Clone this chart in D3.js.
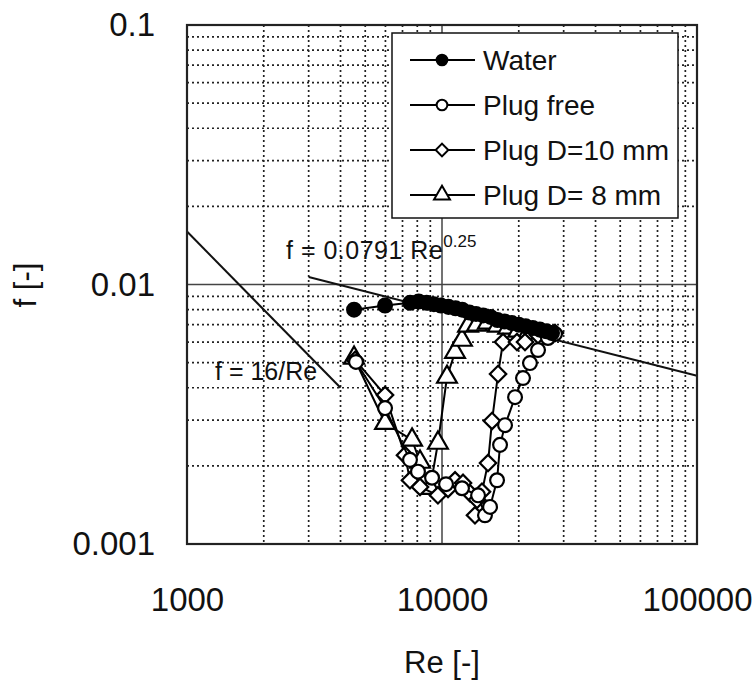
<!DOCTYPE html>
<html>
<head>
<meta charset="utf-8">
<script src="https://cdn.jsdelivr.net/npm/d3@7"></script>
<style>
  body { margin: 0; background: #fff; }
  svg { display: block; font-family: "Liberation Sans", Arial, sans-serif; }
</style>
</head>
<body>
<svg id="chart"></svg>
<script>
// Re [-] and f [-]
const waterRe = [4520, 5980, 7500, 8100, 8700, 9300, 9900, 10600, 11300, 12000, 12800, 13600, 14500, 15500, 16500, 17600, 18800, 20000, 21300, 22700, 24200, 25700, 27000];
const waterF = [0.0080, 0.0083, 0.0085, 0.0086, 0.0085, 0.0084, 0.0083, 0.0082, 0.0081, 0.0080, 0.0078, 0.0077, 0.0076, 0.0075, 0.0073, 0.0072, 0.0071, 0.0070, 0.0069, 0.0068, 0.0067, 0.0066, 0.0065];

const freeRe = [4600, 5980, 7490, 8050, 9140, 10370, 11980, 13850, 14740, 15430, 16440, 16890, 17670, 19340, 20780, 22130, 23800, 26040, 27740];
const freeF = [0.00503, 0.00334, 0.00211, 0.00190, 0.00180, 0.00170, 0.00164, 0.00154, 0.00129, 0.00139, 0.00176, 0.00241, 0.00287, 0.00368, 0.00436, 0.00498, 0.00559, 0.00622, 0.00645];

const d10Re = [4560, 5980, 7160, 7490, 8200, 9640, 10560, 11250, 12090, 12880, 13720, 13470, 14350, 15150, 15710, 16590, 17350, 19680, 21160, 23800, 25820, 27740];
const d10F = [0.00512, 0.00375, 0.00220, 0.00176, 0.00166, 0.00154, 0.00163, 0.00176, 0.00172, 0.00157, 0.00148, 0.00129, 0.00159, 0.00205, 0.00298, 0.00452, 0.00600, 0.00600, 0.00600, 0.00639, 0.00639, 0.00650];

const d8Re = [4520, 5980, 7630, 8200, 8980, 9640, 10460, 11250, 11970, 12650, 13720, 15120, 16560, 18170, 19900, 21760];
const d8F = [0.00521, 0.00292, 0.00252, 0.00207, 0.00164, 0.00245, 0.00440, 0.00549, 0.00611, 0.00692, 0.00699, 0.00711, 0.00692, 0.00680, 0.00662, 0.00650];

const laminarRe = [1000, 4000];      // f = 16/Re
const blasiusRe = [3000, 100000];    // f = 0.0791 Re^-0.25

const xTickLabels = [1000, 10000, 100000];
const yTickLabels = [0.001, 0.01, 0.1];
const seriesNames = ["Water", "Plug free", "Plug D=10 mm", "Plug D= 8 mm"];

const W = 755, H = 685;
const mL = 187, mR = 697, mT = 25, mB = 544;

const svg = d3.select("#chart").attr("width", W).attr("height", H);

const x = d3.scaleLog().domain([1000, 100000]).range([mL, mR]);
const y = d3.scaleLog().domain([0.001, 0.1]).range([mB, mT]);

const isMajor = v => Math.abs(Math.log10(v) - Math.round(Math.log10(v))) < 1e-9;

// grid
const grid = svg.append("g");
grid.selectAll(".vg")
  .data(x.ticks().filter(v => v > 1000 && v < 100000))
  .enter().append("line")
    .attr("x1", d => x(d)).attr("x2", d => x(d))
    .attr("y1", mT).attr("y2", mB)
    .attr("stroke", d => isMajor(d) ? "#444" : "#222")
    .attr("stroke-width", d => isMajor(d) ? 1.5 : 1.7)
    .attr("stroke-dasharray", d => isMajor(d) ? null : "2,3");
grid.selectAll(".hg")
  .data(y.ticks().filter(v => v > 0.001 && v < 0.1))
  .enter().append("line")
    .attr("y1", d => y(d)).attr("y2", d => y(d))
    .attr("x1", mL).attr("x2", mR)
    .attr("stroke", d => isMajor(d) ? "#444" : "#222")
    .attr("stroke-width", d => isMajor(d) ? 1.5 : 1.7)
    .attr("stroke-dasharray", d => isMajor(d) ? null : "2,3");

// theory lines
const lineTheory = d3.line().x(d => x(d[0])).y(d => y(d[1]));
svg.append("path")
  .datum(laminarRe.map(r => [r, 16 / r]))
  .attr("d", lineTheory)
  .attr("fill", "none").attr("stroke", "#111").attr("stroke-width", 2);
svg.append("path")
  .datum(blasiusRe.map(r => [r, 0.0791 * Math.pow(r, -0.25)]))
  .attr("d", lineTheory)
  .attr("fill", "none").attr("stroke", "#111").attr("stroke-width", 2);

svg.append("text").attr("x", 215).attr("y", 380)
  .attr("font-size", 25).attr("fill", "#111").text("f = 16/Re");
const bl = svg.append("text").attr("x", 286).attr("y", 259).attr("font-size", 25)
  .attr("letter-spacing", 0.5).attr("fill", "#111");
bl.append("tspan").text("f = 0.0791 Re");
bl.append("tspan").attr("dy", -12).attr("font-size", 17).attr("letter-spacing", 0).text("0.25");

// markers
const sym = {
  circle: d3.symbol().type(d3.symbolCircle).size(150),
  diamond: d3.symbol().type(d3.symbolSquare).size(135),
  triangle: d3.symbol().type(d3.symbolTriangle).size(170)
};

const series = [
  { name: seriesNames[3], re: d8Re, f: d8F, shape: "triangle", fill: "#fff" },
  { name: seriesNames[2], re: d10Re, f: d10F, shape: "diamond", fill: "#fff" },
  { name: seriesNames[1], re: freeRe, f: freeF, shape: "circle", fill: "#fff" },
  { name: seriesNames[0], re: waterRe, f: waterF, shape: "circle", fill: "#000" }
];

const line = d3.line().x(d => x(d[0])).y(d => y(d[1]));

series.forEach(s => {
  const pts = s.re.map((r, i) => [r, s.f[i]]);
  const g = svg.append("g");
  g.append("path").datum(pts).attr("d", line)
    .attr("fill", "none").attr("stroke", "#000").attr("stroke-width", 2);
  g.selectAll("path.m").data(pts).enter().append("path")
    .attr("class", "m")
    .attr("d", sym[s.shape])
    .attr("transform", d => `translate(${x(d[0])},${y(d[1])})` + (s.shape === "diamond" ? " rotate(45)" : ""))
    .attr("fill", s.fill).attr("stroke", "#000").attr("stroke-width", 2.2);
});

// frame
svg.append("rect").attr("x", mL).attr("y", mT)
  .attr("width", mR - mL).attr("height", mB - mT)
  .attr("fill", "none").attr("stroke", "#222").attr("stroke-width", 2.2);

// axes labels
const xAxis = d3.axisBottom(x).tickValues(xTickLabels).tickSize(0).tickPadding(44)
  .tickFormat(d3.format("d"));
svg.append("g").attr("transform", `translate(0,${mB})`).call(xAxis)
  .call(g => g.select(".domain").remove())
  .selectAll("text").attr("font-size", 33).attr("fill", "#111")
  .attr("font-family", "Liberation Sans, Arial, sans-serif");

const yAxis = d3.axisLeft(y).tickValues(yTickLabels).tickSize(0).tickPadding(32)
  .tickFormat(d => d3.format("")(d));
svg.append("g").attr("transform", `translate(${mL},0)`).call(yAxis)
  .call(g => g.select(".domain").remove())
  .selectAll("text").attr("font-size", 33).attr("fill", "#111")
  .attr("font-family", "Liberation Sans, Arial, sans-serif");

svg.append("text").attr("x", (mL + mR) / 2).attr("y", 673)
  .attr("text-anchor", "middle").attr("font-size", 31).attr("fill", "#111").text("Re [-]");
svg.append("text").attr("transform", "translate(36,285) rotate(-90)")
  .attr("text-anchor", "middle").attr("font-size", 31).attr("fill", "#111").text("f [-]");

// legend
const lg = svg.append("g");
lg.append("rect").attr("x", 392).attr("y", 33).attr("width", 286).attr("height", 185)
  .attr("fill", "#fff").attr("stroke", "#111").attr("stroke-width", 1.5);
const legendItems = [series[3], series[2], series[1], series[0]];
const legendSym = {
  circle: d3.symbol().type(d3.symbolCircle).size(90),
  diamond: d3.symbol().type(d3.symbolSquare).size(80),
  triangle: d3.symbol().type(d3.symbolTriangle).size(110)
};
legendItems.forEach((s, i) => {
  const cy = 60 + i * 45;
  lg.append("line").attr("x1", 410).attr("x2", 475).attr("y1", cy).attr("y2", cy)
    .attr("stroke", "#000").attr("stroke-width", 2);
  lg.append("path").attr("d", legendSym[s.shape])
    .attr("transform", `translate(442,${cy})` + (s.shape === "diamond" ? " rotate(45)" : ""))
    .attr("fill", s.fill).attr("stroke", "#000").attr("stroke-width", 2);
  lg.append("text").attr("x", 483).attr("y", cy + 10).attr("font-size", 28)
    .attr("fill", "#111").text(s.name);
});
</script>
</body>
</html>
